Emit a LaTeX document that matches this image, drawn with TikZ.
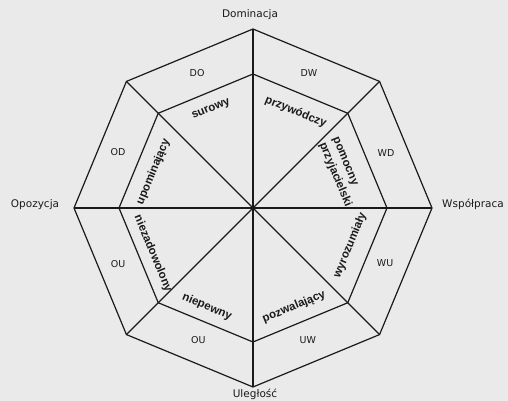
\documentclass[tikz,border=0pt]{standalone}
\usepackage{fontspec}
\newfontfamily\labfont{DejaVu Sans}
\newfontfamily\wordfont{Liberation Sans}
\definecolor{bgcol}{HTML}{EAEAEA}
\definecolor{ink}{HTML}{1A1A1A}
\begin{document}
\begin{tikzpicture}[x=1pt,y=1pt,
  lines/.style={draw=ink,line width=1.2pt,line join=miter},
  axislab/.style={font=\labfont\fontsize{10.5}{12}\selectfont,text=ink,inner sep=1pt},
  celllab/.style={font=\labfont\fontsize{9.5}{10}\selectfont,text=ink,inner sep=1pt},
  wordlab/.style={font=\wordfont\bfseries\fontsize{11.5}{14.5}\selectfont,text=ink,inner sep=1pt}]
\fill[bgcol] (-253,-193) rectangle (255,208);
\useasboundingbox (-253,-193) rectangle (255,208);
\coordinate (c) at (0,0);
\foreach \k in {0,...,7}{
  \coordinate (o\k) at (\k*45:179);
  \coordinate (i\k) at (\k*45:134);
}
% octagons
\draw[lines] (o0)--(o1)--(o2)--(o3)--(o4)--(o5)--(o6)--(o7)--cycle;
\draw[lines] (i0)--(i1)--(i2)--(i3)--(i4)--(i5)--(i6)--(i7)--cycle;
% axes and diagonals
\draw[lines] (o0)--(o4);
\draw[lines] (o2)--(o6);
\draw[lines] (o1)--(o5);
\draw[lines] (o3)--(o7);
% axis labels
\node[axislab] (dom) at (-3,193) {Dominacja};
\node[axislab] (ule) at (2,-186) {Uległość};
\node[axislab] (opo) at (-218,3) {Opozycja};
\node[axislab] (wsp) at (220,4) {Współpraca};
% cell labels
\node[celllab] (dw) at (67.5:146) {DW};
\node[celllab] (do) at (112.5:146) {DO};
\node[celllab] (od) at (157.5:146) {OD};
\node[celllab] (ou1) at (202.5:146) {OU};
\node[celllab] (ou2) at (247.5:143) {OU};
\node[celllab] (uw) at (292.5:143) {UW};
\node[celllab] (wu) at (337.5:143) {WU};
\node[celllab] (wd) at (22.5:144) {WD};
% inner words
\node[wordlab,rotate=22.5] (sur) at (113:107) {surowy};
\node[wordlab,rotate=-22.5] (prz) at (66:105) {przywódczy};
\node[wordlab,rotate=-67.5,align=left] (pom) at (22:95) {pomocny\\przyjacielski};
\node[wordlab,rotate=67.5] (wyr) at (-21:104) {wyrozumiały};
\node[wordlab,rotate=22.5] (poz) at (-67.5:107) {pozwalający};
\node[wordlab,rotate=-22.5] (nie) at (-115:109) {niepewny};
\node[wordlab,rotate=-67.5] (nzd) at (-155.5:110) {niezadowolony};
\node[wordlab,rotate=67.5] (upo) at (160:106) {upominający};
\end{tikzpicture}
\end{document}
